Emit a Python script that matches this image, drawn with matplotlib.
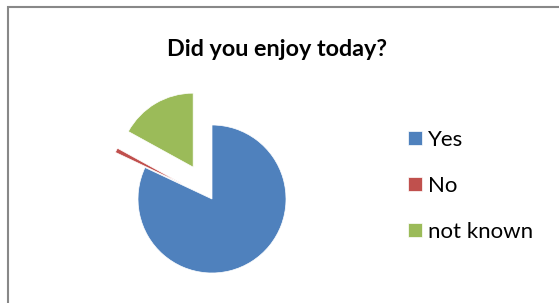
import matplotlib.pyplot as plt
from matplotlib.patches import Rectangle

labels = ['Yes', 'No', 'not known']
values = [82, 1, 17]
colors = ['#4F81BD', '#C0504D', '#9BBB59']

W, H = 559, 303
fig = plt.figure(figsize=(W / 100, H / 100), dpi=100)

# chart border (runs off the right/bottom edge like the screenshot)
fig.patches.append(Rectangle((8 / W, -0.1), 1.2, (H - 7) / H + 0.1,
                             transform=fig.transFigure, fill=False,
                             edgecolor='#888888', linewidth=1.5))

# pie axes: centre at (212, 199) px, radius 74 px
cx, cy, r = 212, 199, 74
half = 130
ax = fig.add_axes([(cx - half) / W, (H - cy - half) / H, 2 * half / W, 2 * half / H])
wedges, _ = ax.pie(values, colors=colors, startangle=90, counterclock=False,
                   explode=[0, 0.45, 0.5], radius=1,
                   wedgeprops=dict(edgecolor='white', linewidth=0.5))
ax.set_xlim(-half / r, half / r)
ax.set_ylim(-half / r, half / r)
ax.set_aspect('equal')
ax.axis('off')

fig.text(277 / W, 1 - 49 / H, 'Did you enjoy today?', ha='center', va='center',
         fontsize=16.8, fontweight='bold', family='Lato')

fig.legend(wedges, labels, loc='upper left', bbox_to_anchor=(388 / W, 1 - 110 / H),
           frameon=False, prop=dict(family='Lato', size=16),
           handlelength=0.62, handleheight=0.62, handletextpad=0.3, labelspacing=1.17)

fig.savefig('out.png', dpi=100)
